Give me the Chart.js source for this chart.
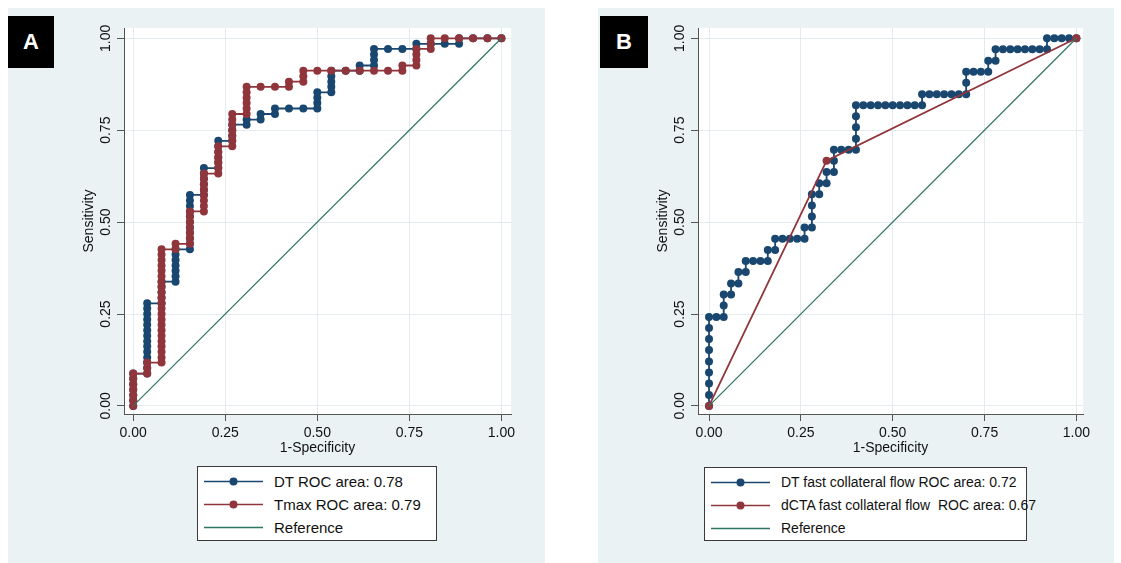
<!DOCTYPE html>
<html><head><meta charset="utf-8">
<script src="https://cdn.jsdelivr.net/npm/chart.js@4.4.1/dist/chart.umd.min.js"></script>
<style>
html,body{margin:0;padding:0;background:#fff;width:1121px;height:563px;overflow:hidden;font-family:"Liberation Sans",Arial,sans-serif;color:#111;}
.panel{position:absolute;top:8px;height:555px;background:#eaf2f3;}
#pa{left:8px;width:537px;}
#pb{left:598px;width:516px;}
canvas{position:absolute;left:0;top:0;}
.tag{position:absolute;top:8px;width:46px;height:52px;background:#000;color:#fff;font-weight:bold;font-size:22px;display:flex;align-items:center;justify-content:center;}
.legend{position:absolute;background:#fff;border:1px solid #3a3a3a;box-sizing:border-box;}
.row{position:absolute;left:0;right:0;height:23px;}
.row svg{position:absolute;left:6px;top:0;}
.row span{position:absolute;left:76px;top:0;line-height:23px;white-space:pre;color:#111;}
</style>
</head><body>
<div id="pa" class="panel">
  <canvas id="ca" width="537" height="450"></canvas>
  <div class="tag" style="left:0">A</div>
  <div id="la" class="legend" style="left:189px;top:458px;width:240px;height:75px;font-size:15px"></div>
</div>
<div id="pb" class="panel">
  <canvas id="cb" width="516" height="450"></canvas>
  <div class="tag" style="left:2px;width:48px">B</div>
  <div id="lb" class="legend" style="left:106px;top:459px;width:323px;height:74px;font-size:14px"></div>
</div>
<script>
// ---- axes ----
const xTickVals = [0, 0.25, 0.5, 0.75, 1];
const xTickLabels = ['0.00', '0.25', '0.50', '0.75', '1.00'];
const yTickVals = [0, 0.25, 0.5, 0.75, 1];
const yTickLabels = ['0.00', '0.25', '0.50', '0.75', '1.00'];
const xTitle = '1-Specificity';
const yTitle = 'Sensitivity';

// ---- Panel A ----
const labelsA = ['DT ROC area: 0.78', 'Tmax ROC area: 0.79', 'Reference'];
// each column: one 1-Specificity value with the sensitivities plotted at it
const dtA_x = [0, 0.038, 0.077, 0.115, 0.154, 0.192, 0.231, 0.269, 0.308, 0.346, 0.385, 0.423, 0.462, 0.5, 0.538, 0.577, 0.615, 0.654, 0.692, 0.731, 0.769, 0.808, 0.846, 0.885, 0.923, 0.962, 1];
const dtA_y = [
  [0, .015, .029, .044, .059, .074, .088],
  [.088, .103, .118, .132, .147, .162, .176, .191, .206, .221, .235, .25, .265, .279],
  [.279, .294, .309, .324, .338],
  [.338, .353, .368, .382, .397, .412, .426],
  [.426, .441, .456, .471, .485, .5, .515, .529, .544, .559, .574],
  [.574, .588, .603, .618, .632, .647],
  [.647, .662, .676, .691, .706, .721],
  [.721, .735, .75, .765],
  [.765, .779],
  [.779, .794],
  [.794, .809],
  [.809],
  [.809],
  [.809, .824, .838, .853],
  [.853, .868, .882, .897, .912],
  [.912],
  [.912, .926],
  [.926, .941, .956, .971],
  [.971],
  [.971],
  [.971, .985],
  [.985],
  [.985],
  [.985, 1],
  [1],
  [1],
  [1]
];
const tmaxA_x = [0, 0.038, 0.077, 0.115, 0.154, 0.192, 0.231, 0.269, 0.308, 0.346, 0.385, 0.423, 0.462, 0.5, 0.538, 0.577, 0.615, 0.654, 0.692, 0.731, 0.769, 0.808, 0.846, 0.885, 0.923, 0.962, 1];
const tmaxA_y = [
  [0, .015, .029, .044, .059, .074, .088],
  [.088, .103, .118],
  [.118, .132, .147, .162, .176, .191, .206, .221, .235, .25, .265, .279, .294, .309, .324, .338, .353, .368, .382, .397, .412, .426],
  [.426, .441],
  [.441, .456, .471, .485, .5, .515, .529],
  [.529, .544, .559, .574, .588, .603, .618, .632],
  [.632, .647, .662, .676, .691, .706],
  [.706, .721, .735, .75, .765, .779, .794],
  [.794, .809, .824, .838, .853, .868],
  [.868],
  [.868],
  [.868, .882],
  [.882, .897, .912],
  [.912],
  [.912],
  [.912],
  [.912],
  [.912],
  [.912],
  [.912, .926],
  [.926, .941, .956, .971],
  [.971, .985, 1],
  [1],
  [1],
  [1],
  [1],
  [1]
];

// ---- Panel B ----
const labelsB = ['DT fast collateral flow ROC area: 0.72', 'dCTA fast collateral flow  ROC area: 0.67', 'Reference'];
const dtB_x = [0, .02, .04, .06, .08, .10, .12, .14, .16, .18, .20, .22, .24, .26, .28, .30, .32, .34, .36, .38, .40, .42, .44, .46, .48, .50, .52, .54, .56, .58, .60, .62, .64, .66, .68, .70, .72, .74, .76, .78, .80, .82, .84, .86, .88, .90, .92, .94, .96, .98, 1];
const dtB_y = [
  [0, .030, .061, .091, .121, .152, .182, .212, .242],
  [.242],
  [.242, .273, .303],
  [.303, .333],
  [.333, .364],
  [.364, .394],
  [.394],
  [.394],
  [.394, .424],
  [.424, .455],
  [.455],
  [.455],
  [.455],
  [.455, .485],
  [.485, .515, .545, .576],
  [.576, .606],
  [.606, .636],
  [.636, .667, .697],
  [.697],
  [.697],
  [.697, .727, .758, .788, .818],
  [.818], [.818], [.818], [.818], [.818], [.818], [.818], [.818],
  [.818, .848],
  [.848], [.848], [.848], [.848], [.848],
  [.848, .879, .909],
  [.909],
  [.909],
  [.909, .939],
  [.939, .970],
  [.970], [.970], [.970], [.970], [.970], [.970],
  [.970, 1],
  [1], [1], [1], [1]
];
const ctaB_x = [0, 0.32, 1];
const ctaB_y = [[0], [0.667], [1]];

// ---- reference diagonal ----
const ref_x = [0, 1];
const ref_y = [[0], [1]];

const BLUE = '#1a476f', RED = '#90353b', GREEN = '#2e7563';

function pts(xs, ys) {
  const out = [];
  xs.forEach((x, i) => ys[i].forEach(y => out.push({x: x, y: y})));
  return out;
}

Chart.defaults.font.family = '"Liberation Sans", Arial, sans-serif';
Chart.defaults.font.size = 14;
Chart.defaults.color = '#111';

const whiteArea = {
  id: 'whiteArea',
  beforeDraw(chart) {
    const a = chart.chartArea, c = chart.ctx;
    c.save(); c.fillStyle = '#fff';
    c.fillRect(a.left, a.top, a.right - a.left, a.bottom - a.top);
    c.restore();
  }
};
const yLabels = {
  id: 'yLabels',
  afterDraw(chart) {
    const s = chart.scales.y, c = chart.ctx;
    c.save();
    c.font = '14px "Liberation Sans", Arial, sans-serif';
    c.fillStyle = '#111';
    c.textAlign = 'center';
    c.textBaseline = 'middle';
    yTickVals.forEach((v, i) => {
      c.save();
      c.translate(s.right - 18, s.getPixelForValue(v));
      c.rotate(-Math.PI / 2);
      c.fillText(yTickLabels[i], 0, 0);
      c.restore();
    });
    c.restore();
  }
};

function ds(label, data, color, dots, order, width) {
  return {
    label: label, data: data, showLine: true, borderColor: color, borderWidth: width,
    backgroundColor: color, pointBackgroundColor: color, pointBorderWidth: 0,
    pointRadius: dots ? 4 : 0, pointHoverRadius: dots ? 4 : 0, tension: 0, order: order, clip: false
  };
}

function makeChart(id, datasets, o) {
  return new Chart(document.getElementById(id), {
    type: 'scatter',
    data: {datasets: datasets},
    plugins: [whiteArea, yLabels],
    options: {
      responsive: false, maintainAspectRatio: false, animation: false, events: [],
      layout: {padding: {left: 0, top: 20, right: o.padRight, bottom: 0}},
      plugins: {legend: {display: false}, tooltip: {enabled: false}},
      scales: {
        x: {
          type: 'linear', min: o.xmin, max: o.xmax,
          afterBuildTicks: s => { s.ticks = xTickVals.map(v => ({value: v})); },
          afterFit: s => { s.height = 44; },
          ticks: {autoSkip: false, maxRotation: 0, minRotation: 0, padding: 4, color: '#111',
                  callback: (v, i) => xTickLabels[i]},
          grid: {color: '#e3ebee', lineWidth: 1, tickColor: '#555', tickLength: 7, drawTicks: true},
          border: {display: true, color: '#555', width: 1},
          title: {display: true, text: xTitle, color: '#111', font: {size: 14}, padding: {top: 0, bottom: 1}}
        },
        y: {
          type: 'linear', min: -0.022, max: 1.028,
          afterBuildTicks: s => { s.ticks = yTickVals.map(v => ({value: v})); },
          afterFit: s => { s.width = o.yWidth; },
          ticks: {display: false},
          grid: {color: '#e3ebee', lineWidth: 1, tickColor: '#555', tickLength: 7, drawTicks: true},
          border: {display: true, color: '#555', width: 1},
          title: {display: true, text: yTitle, color: '#111', font: {size: 14}, padding: {top: o.yTitlePad, bottom: 0}}
        }
      }
    }
  });
}

const chartA = makeChart('ca', [
  ds(labelsA[2], pts(ref_x, ref_y), GREEN, false, 0, 1.2),
  ds(labelsA[1], pts(tmaxA_x, tmaxA_y), RED, true, 1, 1.8),
  ds(labelsA[0], pts(dtA_x, dtA_y), BLUE, true, 2, 1.8)
], {xmin: -0.025, xmax: 1.026, padRight: 34, yWidth: 116, yTitlePad: 72.6});

const chartB = makeChart('cb', [
  ds(labelsB[2], pts(ref_x, ref_y), GREEN, false, 0, 1.2),
  ds(labelsB[1], pts(ctaB_x, ctaB_y), RED, true, 1, 1.8),
  ds(labelsB[0], pts(dtB_x, dtB_y), BLUE, true, 2, 1.8)
], {xmin: -0.03, xmax: 1.018, padRight: 31, yWidth: 100, yTitlePad: 56.6});

function legend(el, chart) {
  const items = chart.data.datasets.slice().reverse();
  const tops = [2.5, 25.5, 48.5];
  items.forEach((d, i) => {
    const row = document.createElement('div');
    row.className = 'row';
    row.style.top = tops[i] + 'px';
    const dot = d.pointRadius > 0 ? '<circle cx="29.5" cy="11.5" r="4" fill="' + d.borderColor + '"/>' : '';
    row.innerHTML = '<svg width="59" height="23"><line x1="0" y1="11.5" x2="59" y2="11.5" stroke="' + d.borderColor + '" stroke-width="' + (d.pointRadius > 0 ? 1.6 : 1.4) + '"/>' + dot + '</svg>';
    const sp = document.createElement('span');
    sp.textContent = d.label;
    row.appendChild(sp);
    el.appendChild(row);
  });
}
legend(document.getElementById('la'), chartA);
legend(document.getElementById('lb'), chartB);
</script>
</body></html>
